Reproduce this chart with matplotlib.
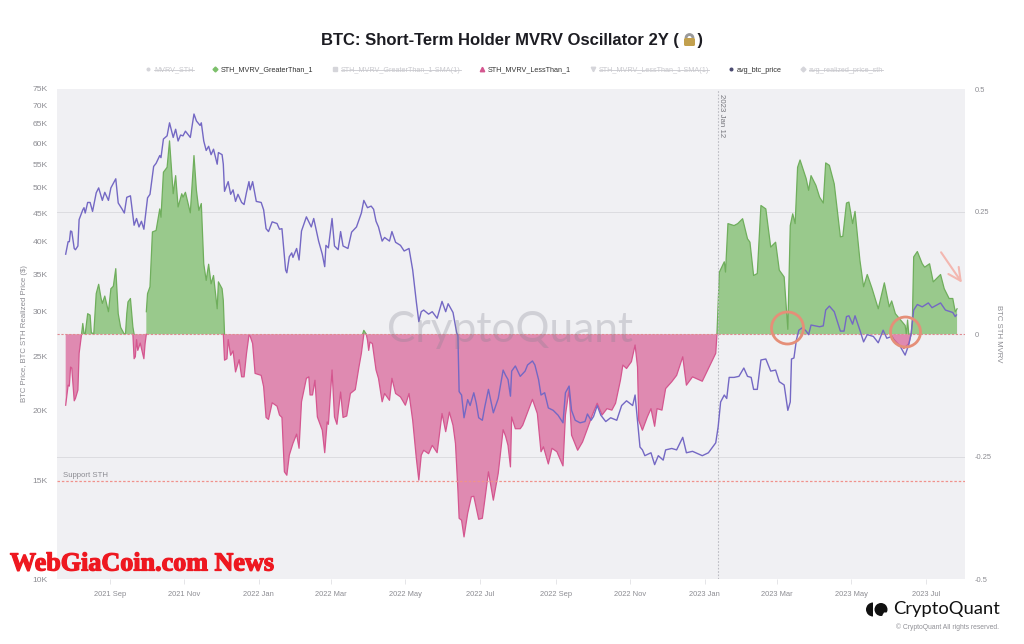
import numpy as np
import pandas as pd
import matplotlib
matplotlib.use("Agg")
import matplotlib.pyplot as plt
import matplotlib.dates as mdates
import matplotlib.patheffects as pe
from matplotlib.lines import Line2D
from matplotlib.patches import Circle, FancyBboxPatch, Wedge

plt.rcParams['font.family'] = ['Liberation Sans', 'DejaVu Sans']

nan = float('nan')
start = pd.Timestamp('2021-07-27')

# avg_btc_price: days since start, price in $K
price_days = [0,2,3,4,5,7,8,10,11,14,15,16,18,20,22,25,27,30,32,35,37,41,43,46,48,50,53,56,58,60,62,64,67,69,72,74,77,78,80,83,85,88,90,92,94,96,98,102,105,107,110,111,113,115,117,119,121,124,125,128,129,130,133,135,137,139,141,144,146,148,150,151,153,156,160,162,164,166,169,173,175,177,180,181,183,185,186,189,191,193,197,201,203,207,210,212,213,215,218,220,223,225,227,231,234,238,242,244,247,250,252,254,256,259,261,265,267,270,274,277,281,284,287,289,291,293,297,300,304,308,311,313,317,320,321,322,324,326,329,331,334,336,338,341,343,346,350,354,358,360,362,364,
              365,368,372,376,378,382,384,387,389,392,395,399,403,407,409,412,414,417,421,425,427,430,432,435,438,442,446,451,455,459,464,466,469,470,472,474,479,482,485,489,491,496,500,505,508,513,521,526,532,534,536,539,541,543,547,551,555,558,561,563,566,569,573,577,581,584,588,591,593,594,596,598,600,603,606,608,610,617,620,622,625,629,634,637,639,641,644,646,650,653,656,661,665,669,672,676,679,683,687,690,692,694,697,701,706,709,716,720,726,728,729]
price_k = [38.0,40,40,41.8,41.7,38.9,38.7,39.3,43.8,45.6,46,45,47,47,45.3,48.9,49.9,47.4,49,47.4,49.9,51.8,46.9,45.8,45,48,48.3,42.8,44,42.5,43.5,42.1,47.9,48.6,54.5,55.2,57,56.5,61,61.8,65.2,61.4,63.5,60.5,62,61.8,63,61.4,67.6,65.7,64.5,65.2,60.5,58.2,59.2,57.2,58.5,55,57.7,57.2,55,49.2,51.2,48.6,49.5,47.2,48.6,47,46.6,49,51.2,49.5,51.2,47.2,47,45.6,42.2,41.7,43.4,43.1,42.1,42.2,35.6,35.2,37.6,38.2,37.5,38.9,37.1,41.8,44.3,42.5,44,40.1,38,36.1,39.4,39,44,39.3,38.7,41.7,39.3,38.9,41.6,42.5,45,47.4,46,46.3,45.7,43.5,42.5,40.1,40.7,40.1,41.7,39.9,39.4,38.5,38.9,35.6,31.2,28.8,30,30.2,29.7,30,29.2,31.3,30,31,29.9,27.5,27.2,21.6,21.3,19.4,20.9,20.4,21.5,20.6,19.4,19.2,20.3,21.8,19.8,21,23.6,23.1,22.7,21.2,
           23.5,24,23,23.5,24.1,24.5,24.1,22.7,21.3,21.5,20.2,20,19.6,19,21.5,22.1,20,19.2,19,19.1,19.7,19.2,19.5,20.4,19.6,19.1,19.4,19.2,20.4,20.8,20.4,21.3,18.2,17.2,17,16.6,16.8,16,16.6,16.3,17,17.1,17,17.9,16.8,16.9,16.6,16.8,17.5,18.7,20.7,21.3,21,22.9,22.9,23,23.8,23,22.9,21.8,21.8,24.6,24.7,23.5,23.6,22.5,22.2,20,20.7,24.7,24.8,26.7,27.8,28.1,27.7,27.3,28.4,28.2,28.3,30.2,30.7,30,27.7,27.7,29.4,29.5,28.5,29.5,27.8,26.5,27.3,27.1,26.4,27.8,26.9,27.1,26.4,26,25.1,26.2,27.5,30.2,30.9,30.6,31.1,30.5,31.1,30.2,29.9,29.4,29.6]

# STH_MVRV_GreaterThan_1, nan marks a gap
green_days = [13,14,15,16,18,20,21,23,25,27,29,30,32,35,37,39,41,43,45,48,49,50,51,53,55,56,57,
              66,67,69,71,74,77,78,80,83,85,88,90,92,95,96,98,102,105,107,109,111,113,115,117,119,121,124,125,128,129,130,131,
              243,244,246,247,
              533,535,539,540,542,547,550,554,558,560,563,566,569,573,577,581,584,588,591,593,595,597,599,601,606,608,610,614,617,620,622,625,629,634,636,639,641,644,646,650,653,656,660,665,670,674,676,679,683,687,688,689,690,691,692,693,694,697,701,703,707,710,716,719,723,726,728,729.5]
green_vals = [0,.022,.002,.001,.042,.039,.003,.001,.083,.102,.073,.063,.078,.046,.093,.098,.134,.042,.014,0,.002,.042,.066,.073,.015,0,nan,
              .046,.083,.097,.209,.212,.256,.239,.331,.341,.395,.287,.324,.26,.287,.28,.29,.248,.365,.294,.253,.267,.144,.11,.143,.103,.12,.052,.107,.093,.069,0,nan,
              0,.008,0,nan,
              .001,.127,.148,.127,.226,.222,.226,.236,.195,.188,.12,.124,.263,.256,.178,.188,.131,.117,.01,.222,.246,.226,.341,.356,.318,.294,.324,.304,.28,.268,.35,.345,.307,.199,.2,.268,.27,.226,.251,.151,.097,.122,.093,.052,.105,.056,.068,.042,.03,.018,0,.029,0,0,0,.035,.158,.169,.144,.137,.144,.107,.122,.093,.073,.073,.046,.052]

# STH_MVRV_LessThan_1, nan marks a gap
pink_days = [0,2,3,4,5,7,8,10,11,13,14,
             55,56,57,58,59,61,64,65,66,67,
             129,130,132,133,135,137,139,142,144,146,148,150,151,153,155,160,162,164,166,169,173,175,177,179,181,183,186,189,191,193,197,199,200,202,204,206,210,212,214,215,218,220,222,225,227,230,233,237,240,242,244,245,
             246,247,248,249,251,254,256,259,261,265,267,270,274,278,281,284,287,289,291,293,297,300,304,308,311,314,317,319,321,322,324,326,329,332,334,338,341,343,346,350,354,358,360,362,364,
             365,368,372,374,382,386,389,391,395,398,402,407,409,412,414,419,423,427,431,435,439,443,447,450,454,456,459,463,466,468,469,472,476,479,482,484,488,491,496,500,505,508,513,521,526,532,533,534,
             675,678,682,686,690,692]
pink_vals = [-.145,-.104,-.106,-.067,-.069,-.136,-.131,-.114,-.039,0,nan,
             0,-.05,-.046,-.011,-.033,-.018,-.05,-.019,0,nan,
             0,-.053,-.05,-.011,-.043,-.034,-.077,-.052,-.087,-.087,-.039,-.002,-.004,-.019,-.08,-.084,-.107,-.17,-.174,-.14,-.147,-.165,-.17,-.281,-.288,-.247,-.223,-.204,-.233,-.138,-.09,-.087,-.124,-.124,-.094,-.169,-.196,-.242,-.179,-.184,-.073,-.169,-.184,-.118,-.17,-.167,-.121,-.113,-.067,-.039,0,nan,
             0,-.012,-.033,-.016,-.019,-.073,-.09,-.138,-.121,-.135,-.09,-.121,-.128,-.145,-.121,-.176,-.254,-.298,-.247,-.237,-.244,-.227,-.242,-.162,-.199,-.159,-.186,-.223,-.318,-.376,-.38,-.414,-.366,-.332,-.331,-.378,-.376,-.339,-.281,-.339,-.284,-.195,-.208,-.227,-.271,
             -.169,-.193,-.193,-.186,-.133,-.162,-.24,-.23,-.265,-.233,-.24,-.269,-.165,-.113,-.206,-.237,-.22,-.193,-.165,-.141,-.165,-.152,-.155,-.141,-.094,-.063,-.07,-.056,-.022,-.067,-.176,-.196,-.169,-.152,-.188,-.152,-.155,-.111,-.097,-.084,-.046,-.104,-.087,-.096,-.07,-.039,0,nan,
             0,-.011,-.022,-.029,-.019,0]

price_ticks = [10,15,20,25,30,35,40,45,50,55,60,65,70,75]
mvrv_ticks = [-0.5,-0.25,0,0.25,0.5]
mvrv_labels = ['-0.5','-0.25','0','0.25','0.5']

grey = '#8c8c92'
bg = '#f0f0f3'
purple = '#7468c4'

W, H = 1024, 644
fig = plt.figure(figsize=(W/100, H/100), dpi=100)
rect = [57/W, 1-579/H, (965-57)/W, (579-88.5)/H]

# mvrv axis sits below, price axis on top of it
ax2 = fig.add_axes(rect)
ax = ax2.twinx()
ax2.set_facecolor(bg)
ax.patch.set_visible(False)

to_dates = lambda d: start + pd.to_timedelta(np.array(d, dtype=float), unit='D')

ax2.axhline(0.25, color='#dcdce0', lw=0.7, zorder=1)
ax2.axhline(-0.25, color='#dcdce0', lw=0.7, zorder=1)

gx = to_dates(green_days)
gy = np.array(green_vals)
ax2.fill_between(gx, 0, gy, where=~np.isnan(gy), color='#99c98c', lw=0, zorder=2)
ax2.plot(gx, gy, color='#6fae5c', lw=0.9, zorder=3)

px = to_dates(pink_days)
py = np.array(pink_vals)
ax2.fill_between(px, 0, py, where=~np.isnan(py), color='#df8ab1', lw=0, zorder=2)
ax2.plot(px, py, color='#d4568f', lw=0.9, zorder=3)

# zero line and support line
ax2.axhline(0, color='#e08a90', lw=0.8, ls=(0, (2, 1.5)), zorder=4)
ax2.axhline(-0.3, color='#f0928c', lw=0.9, ls=(0, (2, 1.5)), zorder=4)

jan12 = pd.Timestamp('2023-01-12')
ax2.axvline(jan12, color='#bcbcc2', lw=0.8, ls=(0, (1.5, 1.5)), zorder=4)

ax.plot(to_dates(price_days), np.array(price_k)*1000, color=purple, lw=1.0, zorder=5)

ax.set_yscale('log')
ax.set_ylim(10000, 75000*1.001)
ax2.set_ylim(-0.5, 0.502)
ax2.set_xlim(start - pd.Timedelta(days=7.1), start + pd.Timedelta(days=736))

ax.set_yticks([t*1000 for t in price_ticks])
ax.set_yticklabels([f'{t}K' for t in price_ticks])
ax.yaxis.set_minor_locator(matplotlib.ticker.NullLocator())
ax.yaxis.set_ticks_position('left')
ax.yaxis.set_label_position('left')
ax.tick_params(axis='y', length=0, pad=6.5, labelsize=6.1, labelcolor=grey)

ax2.set_yticks(mvrv_ticks)
ax2.set_yticklabels(mvrv_labels)
ax2.yaxis.set_ticks_position('right')
ax2.yaxis.set_label_position('right')
ax2.tick_params(axis='y', length=0, pad=7, labelsize=5.4, labelcolor=grey)

ax2.xaxis.set_major_locator(mdates.MonthLocator(bymonth=[1,3,5,7,9,11]))
ax2.xaxis.set_major_formatter(mdates.DateFormatter('%Y %b'))
ax2.tick_params(axis='x', length=3.5, width=0.6, color='#e0e0e4', pad=5, labelsize=5.4, labelcolor=grey)

for a in (ax, ax2):
    for s in a.spines.values():
        s.set_visible(False)

ax.set_ylabel('BTC Price, BTC STH Realized Price ($)', fontsize=5.6, color=grey, va='center')
ax.yaxis.set_label_coords(-0.0363, 0.5)
ax2.set_ylabel('BTC STH MVRV', fontsize=5.6, color=grey, rotation=270, va='center')
ax2.yaxis.set_label_coords(1.0374, 0.5)

ax2.text(0.0067, 0.21, 'Support STH', transform=ax2.transAxes, fontsize=5.6, color=grey, va='center', zorder=6)
ax2.text(jan12 + pd.Timedelta(days=3), 0.49, '2023 Jan 12', rotation=270, fontsize=5.7, color='#77777d',
         ha='center', va='top', zorder=6)

# legend
handles = [
    Line2D([], [], marker='o', ms=1.9, ls='', color='#d5d5da', label='MVRV_STH'),
    Line2D([], [], marker='D', ms=2.5, ls='', color='#7cc06b', label='STH_MVRV_GreaterThan_1'),
    Line2D([], [], marker='s', ms=3.0, ls='', color='#d5d5da', label='STH_MVRV_GreaterThan_1-SMA(1)'),
    Line2D([], [], marker='^', ms=3.2, ls='', color='#d4568f', label='STH_MVRV_LessThan_1'),
    Line2D([], [], marker='v', ms=3.2, ls='', color='#d5d5da', label='STH_MVRV_LessThan_1-SMA(1)'),
    Line2D([], [], marker='o', ms=1.9, ls='', color='#4a4a70', label='avg_btc_price'),
    Line2D([], [], marker='D', ms=2.5, ls='', color='#d5d5da', label='avg_realized_price_sth'),
]
leg = fig.legend(handles=handles, ncols=7, loc='center', bbox_to_anchor=(514/W, 1-70/H), frameon=False,
                 fontsize=5.2, handletextpad=0.3, columnspacing=2.5, handlelength=1.0, borderpad=0)
muted = [0, 2, 4, 6]
for i, t in enumerate(leg.get_texts()):
    t.set_color('#c9c9ce' if i in muted else '#333333')

fig.text(512/W, 1-40/H, 'BTC: Short-Term Holder MVRV Oscillator 2Y (    )', fontsize=12, fontweight='bold',
         color='#1c1c22', ha='center', va='center')

# overlay in pixel coordinates for the hand drawn marks and branding
ov = fig.add_axes([0, 0, 1, 1], zorder=20)
ov.set_xlim(0, W)
ov.set_ylim(H, 0)
ov.axis('off')
ov.patch.set_visible(False)

fig.canvas.draw()
inv = ov.transData.inverted()
for i in muted:
    bb = leg.get_texts()[i].get_window_extent()
    x0, y0 = inv.transform((bb.x0, (bb.y0+bb.y1)/2))
    x1, y1 = inv.transform((bb.x1, (bb.y0+bb.y1)/2))
    ov.plot([x0, x1], [y0, y1], color='#c9c9ce', lw=0.6)

# lock glyph in the title
ov.add_patch(Wedge((689.5, 38), 4.2, 180, 360, width=1.5, color='#9a9a9a'))
ov.add_patch(FancyBboxPatch((684, 38), 11, 8, boxstyle='round,pad=0,rounding_size=1.5', color='#c2a04e', lw=0))

ov.text(510, 330, 'CryptoQuant', fontsize=30.5, color='#80808e', alpha=0.28, ha='center', va='center', family='Lato')

ov.add_patch(Circle((787.5, 328), 16, fill=False, ec='#e58f78', lw=2))
ov.add_patch(Circle((905.5, 332), 15, fill=False, ec='#e58f78', lw=2))
ov.annotate('', xy=(963.5, 285), xytext=(939.5, 250),
            arrowprops=dict(arrowstyle='->,head_length=0.9,head_width=0.45', color='#f3b7b0', lw=1.5))

# site watermark
ov.text(10, 564, 'WebGiaCoin.com News', fontsize=18.8, fontweight='bold', family='Liberation Serif', color='#ee1820',
        va='center', ha='left', zorder=30,
        path_effects=[pe.withStroke(linewidth=0.9, foreground='#ee1820')])

# cryptoquant logo
ov.add_patch(Wedge((873, 609.5), 7, 90, 270, color='#111111', lw=0))
ov.add_patch(Circle((881, 609.5), 6.5, color='#111111', lw=0))
ov.add_patch(Wedge((884, 612.5), 3.6, 0, 120, color='white', lw=0))
ov.text(893, 609, 'CryptoQuant', fontsize=13.2, color='#111111', va='center', ha='left', family='Lato')
ov.text(999, 627, '© CryptoQuant All rights reserved.', fontsize=4.9, color='#909096', va='center', ha='right')

fig.savefig('out.png', dpi=100)
